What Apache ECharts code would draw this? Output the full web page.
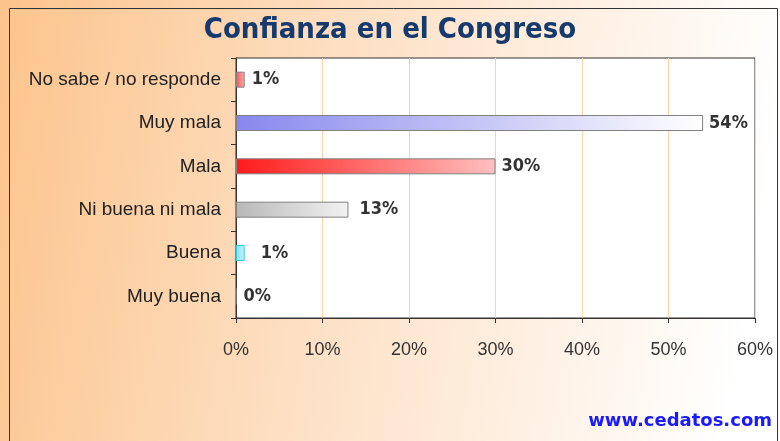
<!DOCTYPE html>
<html>
<head>
<meta charset="utf-8">
<script src="https://cdn.jsdelivr.net/npm/echarts@6/dist/echarts.min.js"></script>
<style>html,body{margin:0;padding:0;background:#fff}#c{width:780px;height:441px}</style>
</head>
<body>
<div id="c"></div>
<script>
var categories = ['Muy buena', 'Buena', 'Ni buena ni mala', 'Mala', 'Muy mala', 'No sabe / no responde'];
var values = [0, 1, 13, 30, 54, 1];
var tickLabels = ['0%', '10%', '20%', '30%', '40%', '50%', '60%'];
var titleText = 'Confianza en el Congreso';
var sourceText = 'www.cedatos.com';

function grad(a, b) {
  return new echarts.graphic.LinearGradient(0, 0, 1, 0, [{offset: 0, color: a}, {offset: 1, color: b}]);
}
var barStyles = [
  {color: '#ffffff', borderColor: '#888'},
  {color: grad('#7fe3f5', '#c8f4fb'), borderColor: '#33c8e8'},
  {color: grad('#b8b8b8', '#f2f2f2'), borderColor: '#808080'},
  {color: grad('#ff1a1a', '#ffc0c0'), borderColor: '#808080'},
  {color: grad('#8888ee', '#ffffff'), borderColor: '#808080'},
  {color: grad('#ff5050', '#ffb0b0'), borderColor: '#808080'}
];
var labelOffsets = [[1, 0], [10, 0], [5, 0], [0, 0], [0, 0], [1, 0]];

var chart = echarts.init(document.getElementById('c'), null, {renderer: 'canvas'});
chart.setOption({
  animation: false,
  backgroundColor: {
    type: 'linear', x: 0, y: 0, x2: 1, y2: 0.3,
    colorStops: [{offset: 0, color: '#fcc48c'}, {offset: 0.45, color: '#fde0c4'}, {offset: 1, color: '#ffffff'}]
  },
  graphic: [
    {type: 'rect', shape: {x: 9.5, y: 8.5, width: 768, height: 440}, style: {fill: 'none', stroke: '#333', lineWidth: 1}, z: 10},
    {type: 'text', left: 'center', top: 16, style: {text: titleText, font: 'bold 29px "DejaVu Sans Condensed", "DejaVu Sans"', fill: '#173a6e'}},
    {type: 'text', right: 8, top: 412, style: {text: sourceText, font: 'bold 18px "DejaVu Sans"', fill: '#1a1aff'}}
  ],
  grid: {left: 236, right: 25, top: 58, bottom: 123, show: true, backgroundColor: '#ffffff', borderColor: '#333', borderWidth: 1},
  xAxis: {
    type: 'value', min: 0, max: 60, interval: 10,
    axisLine: {show: true, lineStyle: {color: '#333'}},
    axisTick: {show: true, length: 5, lineStyle: {color: '#333'}},
    axisLabel: {
      margin: 23, color: '#333', fontSize: 18, fontFamily: 'Liberation Sans',
      formatter: function (v) { return tickLabels[Math.round(v / 10)]; }
    },
    splitLine: {show: true, lineStyle: {color: '#fdd3a8', width: 1}}
  },
  yAxis: {
    type: 'category', data: categories,
    axisLine: {show: true, lineStyle: {color: '#333'}},
    axisTick: {show: true, length: 5, lineStyle: {color: '#333'}},
    axisLabel: {margin: 15, color: '#222', fontSize: 19, fontFamily: 'Liberation Sans'}
  },
  series: [{
    type: 'bar',
    barWidth: 16,
    data: values.map(function (v, i) {
      return {value: v, itemStyle: {color: barStyles[i].color, borderColor: barStyles[i].borderColor, borderWidth: 1},
        label: {offset: labelOffsets[i]}};
    }),
    label: {
      show: true, position: 'right', distance: 6,
      color: '#333', fontSize: 18, fontWeight: 'bold', fontFamily: '"DejaVu Sans Condensed", "Liberation Sans"',
      formatter: function (p) { return p.value + '%'; }
    }
  }]
});
</script>
</body>
</html>
